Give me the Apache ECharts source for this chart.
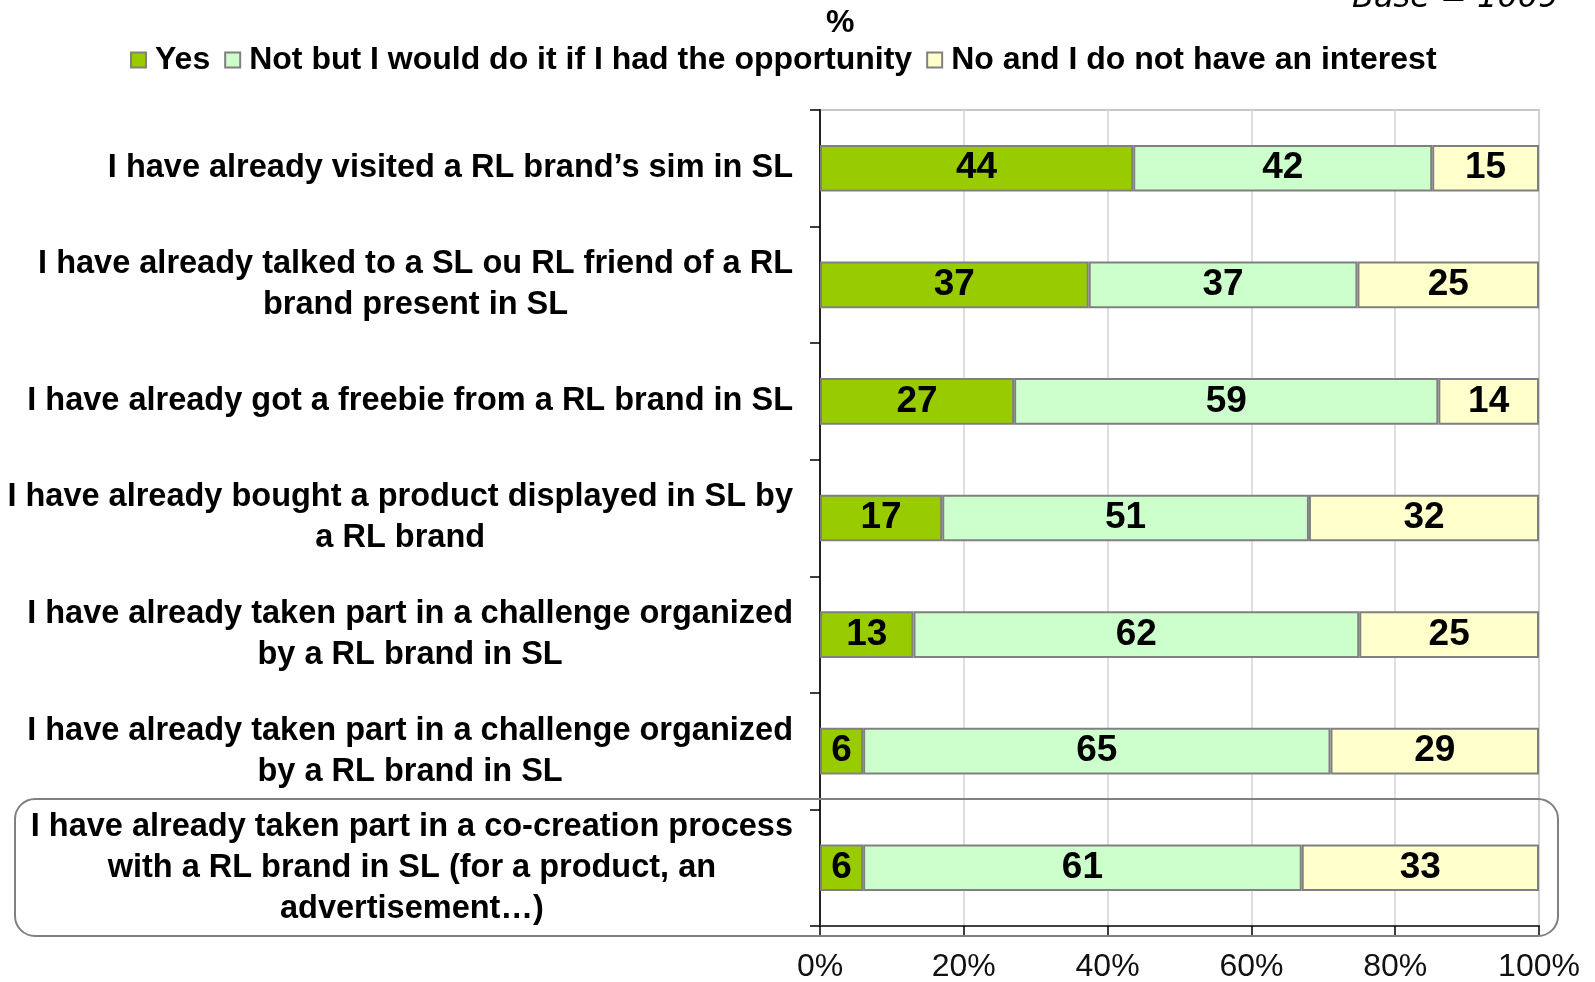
<!DOCTYPE html>
<html>
<head>
<meta charset="utf-8">
<script src="https://cdn.jsdelivr.net/npm/echarts@6/dist/echarts.min.js"></script>
<style>
    html, body { margin: 0; padding: 0; background: #fff; }
    #chart { width: 1595px; height: 982px; }
</style>
</head>
<body>
<div id="chart"></div>
<script>
// categories, top to bottom
const categories = [
    'I have already visited a RL brand\u2019s sim in SL',
    'I have already talked to a SL ou RL friend of a RL\nbrand present in SL',
    'I have already got a freebie from a RL brand in SL',
    'I have already bought a product displayed in SL by\na RL brand',
    'I have already taken part in a challenge organized\nby a RL brand in SL',
    'I have already taken part in a challenge organized\nby a RL brand in SL',
    'I have already taken part in a co-creation process\nwith a RL brand in SL (for a product, an\nadvertisement\u2026)'
]
const seriesNames = ['Yes', 'Not but I would do it if I had the opportunity', 'No and I do not have an interest']
const yesValues = [44, 37, 27, 17, 13, 6, 6]
const opportunityValues = [42, 37, 59, 51, 62, 65, 61]
const noInterestValues = [15, 25, 14, 32, 25, 29, 33]
const xTicks = [0, 20, 40, 60, 80, 100]

const colors = ['#99cc00', '#ccffcc', '#ffffcc']
const narrow = '"Liberation Sans Narrow", "Liberation Sans", Arial, sans-serif'

// 100% stacked: each row is scaled to its total, labels keep the printed values
const allValues = [yesValues, opportunityValues, noInterestValues]
const totals = categories.map((_, i) => allValues.reduce((s, arr) => s + arr[i], 0))

const chart = echarts.init(document.getElementById('chart'))

const series = allValues.map((vals, k) => ({
    name: seriesNames[k],
    type: 'bar',
    stack: 'total',
    barWidth: '40%',
    data: vals.map((v, i) => ({ value: v / totals[i] * 100, label: { formatter: String(v) } })),
    itemStyle: { color: colors[k], borderColor: '#808080', borderWidth: 2 },
    label: {
        show: true,
        position: 'inside',
        color: '#000',
        fontFamily: narrow,
        fontWeight: 'bold',
        fontSize: 37
    },
    emphasis: { disabled: true }
}))

const option = {
    animation: false,
    backgroundColor: '#fff',
    grid: {
        left: 820,
        right: 56,
        top: 110,
        bottom: 56,
        outerBoundsMode: 'none',
        containLabel: false,
        show: true,
        borderColor: '#c8c8c8',
        borderWidth: 2,
        backgroundColor: 'transparent'
    },
    legend: {
        left: 125,
        top: 39,
        itemWidth: 15,
        itemHeight: 15,
        itemGap: 14,
        icon: 'rect',
        textStyle: { fontFamily: narrow, fontWeight: 'bold', fontSize: 32, color: '#000', padding: [0, 0, 0, 4] },
        data: seriesNames
    },
    xAxis: {
        type: 'value',
        min: 0,
        max: 100,
        interval: 20,
        axisLine: { show: true, lineStyle: { color: '#404040', width: 2 } },
        axisTick: { show: true, length: 10, lineStyle: { color: '#000', width: 1.5 } },
        axisLabel: {
            formatter: v => xTicks.includes(v) ? v + '%' : '',
            fontFamily: narrow,
            fontSize: 32,
            color: '#111',
            margin: 25
        },
        splitLine: { show: true, lineStyle: { color: '#d4d4d4', width: 1.5 } }
    },
    yAxis: {
        type: 'category',
        inverse: true,
        data: categories,
        axisLine: { show: true, lineStyle: { color: '#222', width: 2 } },
        axisTick: { show: true, length: 10, lineStyle: { color: '#000', width: 1.5 } },
        axisLabel: {
            margin: 27,
            formatter: v => v.split('\n').map(l => '{c|' + l + '}').join('\n'),
            rich: {
                c: {
                    align: 'center',
                    fontFamily: narrow,
                    fontWeight: 'bold',
                    fontSize: 32.5,
                    lineHeight: 41,
                    color: '#000'
                }
            }
        }
    },
    graphic: [
        {
            type: 'text',
            left: 826,
            top: 7,
            style: { text: '%', fontFamily: narrow, fontWeight: 'bold', fontSize: 32, fill: '#000' }
        },
        {
            type: 'text',
            left: 1352,
            top: -17,
            style: { text: 'Base = 1009', fontFamily: '"DejaVu Sans", Verdana, sans-serif', fontStyle: 'italic', fontSize: 32, fill: '#000' }
        },
        {
            type: 'rect',
            shape: { x: 15, y: 799, width: 1543, height: 137, r: 20 },
            style: { fill: 'none', stroke: '#808080', lineWidth: 2 },
            z: 1
        }
    ],
    series: series
}

chart.setOption(option)
</script>
</body>
</html>
